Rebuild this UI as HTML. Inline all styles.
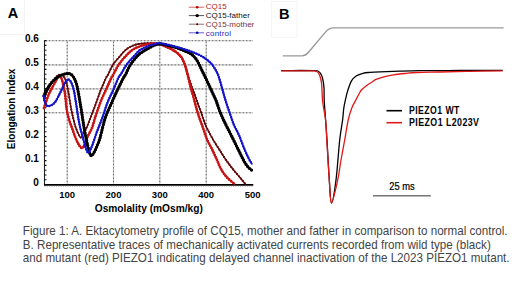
<!DOCTYPE html>
<html><head><meta charset="utf-8"><style>
html,body{margin:0;padding:0;background:#fff;}
body{width:520px;height:283px;overflow:hidden;}
svg{display:block;font-family:"Liberation Sans", sans-serif;}
</style></head><body>
<svg width="520" height="283" viewBox="0 0 520 283">
<rect x="-1" y="-1" width="25.5" height="35.5" fill="none" stroke="#f4f4f4" stroke-width="1"/>
<rect x="271.5" y="1.5" width="25.5" height="36" fill="none" stroke="#f5f5f5" stroke-width="1"/>
<text x="7.8" y="17.8" font-size="14.5" font-weight="bold">A</text>
<text x="279.1" y="19" font-size="14.6" font-weight="bold">B</text>
<line x1="67.2" y1="40.7" x2="67.2" y2="184.6" stroke="#c4c4c4" stroke-width="1.1"/>
<line x1="67.2" y1="41.5" x2="67.2" y2="184.6" stroke="#606060" stroke-width="1" stroke-dasharray="1.2 2.2"/>
<line x1="113.5" y1="40.7" x2="113.5" y2="184.6" stroke="#c4c4c4" stroke-width="1.1"/>
<line x1="113.5" y1="41.5" x2="113.5" y2="184.6" stroke="#606060" stroke-width="1" stroke-dasharray="1.2 2.2"/>
<line x1="159.8" y1="40.7" x2="159.8" y2="184.6" stroke="#c4c4c4" stroke-width="1.1"/>
<line x1="159.8" y1="41.5" x2="159.8" y2="184.6" stroke="#606060" stroke-width="1" stroke-dasharray="1.2 2.2"/>
<line x1="206.2" y1="40.7" x2="206.2" y2="184.6" stroke="#c4c4c4" stroke-width="1.1"/>
<line x1="206.2" y1="41.5" x2="206.2" y2="184.6" stroke="#606060" stroke-width="1" stroke-dasharray="1.2 2.2"/>
<line x1="44.5" y1="40.7" x2="253" y2="40.7" stroke="#c4c4c4" stroke-width="1.1"/>
<line x1="45.5" y1="40.7" x2="253" y2="40.7" stroke="#606060" stroke-width="1" stroke-dasharray="1.2 2.2"/>
<line x1="44.5" y1="64.9" x2="253" y2="64.9" stroke="#c4c4c4" stroke-width="1.1"/>
<line x1="45.5" y1="64.9" x2="253" y2="64.9" stroke="#606060" stroke-width="1" stroke-dasharray="1.2 2.2"/>
<line x1="44.5" y1="88.9" x2="253" y2="88.9" stroke="#c4c4c4" stroke-width="1.1"/>
<line x1="45.5" y1="88.9" x2="253" y2="88.9" stroke="#606060" stroke-width="1" stroke-dasharray="1.2 2.2"/>
<line x1="44.5" y1="112.8" x2="253" y2="112.8" stroke="#c4c4c4" stroke-width="1.1"/>
<line x1="45.5" y1="112.8" x2="253" y2="112.8" stroke="#606060" stroke-width="1" stroke-dasharray="1.2 2.2"/>
<line x1="44.5" y1="40.2" x2="44.5" y2="185.4" stroke="#222" stroke-width="1.1"/>
<line x1="44" y1="184.9" x2="253.3" y2="184.9" stroke="#000" stroke-width="1.9"/>
<path d="M44.5 184.60 h2 M44.5 179.80 h2 M44.5 175.00 h2 M44.5 170.20 h2 M44.5 165.40 h2 M44.5 160.60 h2 M44.5 155.80 h2 M44.5 151.00 h2 M44.5 146.20 h2 M44.5 141.40 h2 M44.5 136.60 h2 M44.5 131.80 h2 M44.5 127.00 h2 M44.5 122.20 h2 M44.5 117.40 h2 M44.5 112.60 h2 M44.5 107.80 h2 M44.5 103.00 h2 M44.5 98.20 h2 M44.5 93.40 h2 M44.5 88.60 h2 M44.5 83.80 h2 M44.5 79.00 h2 M44.5 74.20 h2 M44.5 69.40 h2 M44.5 64.60 h2 M44.5 59.80 h2 M44.5 55.00 h2 M44.5 50.20 h2 M44.5 45.40 h2 M44.5 40.60 h2 " stroke="#111" stroke-width="1.1"/>
<line x1="44.5" y1="186.3" x2="253" y2="186.3" stroke="#999" stroke-width="0.8" stroke-dasharray="1 1.3"/>
<text x="38.8" y="41.9" font-size="10" font-weight="bold" text-anchor="end">0.6</text>
<text x="38.8" y="66.1" font-size="10" font-weight="bold" text-anchor="end">0.5</text>
<text x="38.8" y="90.1" font-size="10" font-weight="bold" text-anchor="end">0.4</text>
<text x="38.8" y="114.0" font-size="10" font-weight="bold" text-anchor="end">0.3</text>
<text x="38.8" y="137.9" font-size="10" font-weight="bold" text-anchor="end">0.2</text>
<text x="38.8" y="161.9" font-size="10" font-weight="bold" text-anchor="end">0.1</text>
<text x="38.8" y="185.8" font-size="10" font-weight="bold" text-anchor="end">0</text>
<text x="67.2" y="198.1" font-size="9.5" font-weight="bold" text-anchor="middle">100</text>
<text x="113.5" y="198.1" font-size="9.5" font-weight="bold" text-anchor="middle">200</text>
<text x="159.8" y="198.1" font-size="9.5" font-weight="bold" text-anchor="middle">300</text>
<text x="206.2" y="198.1" font-size="9.5" font-weight="bold" text-anchor="middle">400</text>
<text x="252.6" y="198.1" font-size="9.5" font-weight="bold" text-anchor="middle">500</text>
<text x="148.8" y="212.3" font-size="10.2" font-weight="bold" text-anchor="middle">Osmolality (mOsm/kg)</text>
<text transform="translate(14.8 108.9) rotate(-90)" font-size="10" font-weight="bold" text-anchor="middle">Elongation Index</text>
<path d="M44.00 100.00 C44.33 99.00 44.93 96.50 46.00 94.00 C47.07 91.50 48.78 87.75 50.40 85.00 C52.02 82.25 54.22 79.20 55.70 77.50 C57.18 75.80 58.08 75.08 59.30 74.80 C60.52 74.52 61.88 74.77 63.00 75.80 C64.12 76.83 65.10 78.30 66.00 81.00 C66.90 83.70 67.57 87.50 68.40 92.00 C69.23 96.50 70.17 103.50 71.00 108.00 C71.83 112.50 72.58 115.67 73.40 119.00 C74.22 122.33 74.72 124.92 75.90 128.00 C77.08 131.08 79.23 136.67 80.50 137.50 C81.77 138.33 82.50 134.58 83.50 133.00 C84.50 131.42 85.35 130.50 86.50 128.00 C87.65 125.50 88.98 121.67 90.40 118.00 C91.82 114.33 93.52 110.00 95.00 106.00 C96.48 102.00 98.27 96.83 99.30 94.00 C100.33 91.17 100.08 91.67 101.20 89.00 C102.32 86.33 104.80 80.50 106.00 78.00 C107.20 75.50 107.27 76.17 108.40 74.00 C109.53 71.83 110.85 68.00 112.80 65.00 C114.75 62.00 117.90 58.57 120.10 56.00 C122.30 53.43 123.87 51.33 126.00 49.60 C128.13 47.87 130.58 46.57 132.90 45.60 C135.22 44.63 137.58 44.20 139.90 43.80 C142.22 43.40 144.50 43.28 146.80 43.20 C149.10 43.12 151.63 43.17 153.70 43.30 C155.77 43.43 157.32 43.48 159.20 44.00 C161.08 44.52 163.12 45.57 165.00 46.40 C166.88 47.23 168.67 48.03 170.50 49.00 C172.33 49.97 174.50 51.12 176.00 52.20 C177.50 53.28 178.50 54.45 179.50 55.50 C180.50 56.55 181.05 56.83 182.00 58.50 C182.95 60.17 184.15 62.58 185.20 65.50 C186.25 68.42 187.25 72.58 188.30 76.00 C189.35 79.42 190.40 82.83 191.50 86.00 C192.60 89.17 193.82 92.00 194.90 95.00 C195.98 98.00 196.95 101.03 198.00 104.00 C199.05 106.97 199.95 109.30 201.20 112.80 C202.45 116.30 203.95 121.30 205.50 125.00 C207.05 128.70 209.00 132.17 210.50 135.00 C212.00 137.83 212.98 139.50 214.50 142.00 C216.02 144.50 217.68 147.00 219.60 150.00 C221.52 153.00 223.67 156.67 226.00 160.00 C228.33 163.33 231.27 167.08 233.60 170.00 C235.93 172.92 238.02 175.12 240.00 177.50 C241.98 179.88 244.58 183.17 245.50 184.30" fill="none" stroke="#600808" stroke-width="1.40" stroke-linejoin="round"/><path d="M44.00 100.00 C44.33 99.00 44.93 96.50 46.00 94.00 C47.07 91.50 48.78 87.75 50.40 85.00 C52.02 82.25 54.22 79.20 55.70 77.50 C57.18 75.80 58.08 75.08 59.30 74.80 C60.52 74.52 61.88 74.77 63.00 75.80 C64.12 76.83 65.10 78.30 66.00 81.00 C66.90 83.70 67.57 87.50 68.40 92.00 C69.23 96.50 70.17 103.50 71.00 108.00 C71.83 112.50 72.58 115.67 73.40 119.00 C74.22 122.33 74.72 124.92 75.90 128.00 C77.08 131.08 79.23 136.67 80.50 137.50 C81.77 138.33 82.50 134.58 83.50 133.00 C84.50 131.42 85.35 130.50 86.50 128.00 C87.65 125.50 88.98 121.67 90.40 118.00 C91.82 114.33 93.52 110.00 95.00 106.00 C96.48 102.00 98.27 96.83 99.30 94.00 C100.33 91.17 100.08 91.67 101.20 89.00 C102.32 86.33 104.80 80.50 106.00 78.00 C107.20 75.50 107.27 76.17 108.40 74.00 C109.53 71.83 110.85 68.00 112.80 65.00 C114.75 62.00 117.90 58.57 120.10 56.00 C122.30 53.43 123.87 51.33 126.00 49.60 C128.13 47.87 130.58 46.57 132.90 45.60 C135.22 44.63 137.58 44.20 139.90 43.80 C142.22 43.40 144.50 43.28 146.80 43.20 C149.10 43.12 151.63 43.17 153.70 43.30 C155.77 43.43 157.32 43.48 159.20 44.00 C161.08 44.52 163.12 45.57 165.00 46.40 C166.88 47.23 168.67 48.03 170.50 49.00 C172.33 49.97 174.50 51.12 176.00 52.20 C177.50 53.28 178.50 54.45 179.50 55.50 C180.50 56.55 181.05 56.83 182.00 58.50 C182.95 60.17 184.15 62.58 185.20 65.50 C186.25 68.42 187.25 72.58 188.30 76.00 C189.35 79.42 190.40 82.83 191.50 86.00 C192.60 89.17 193.82 92.00 194.90 95.00 C195.98 98.00 196.95 101.03 198.00 104.00 C199.05 106.97 199.95 109.30 201.20 112.80 C202.45 116.30 203.95 121.30 205.50 125.00 C207.05 128.70 209.00 132.17 210.50 135.00 C212.00 137.83 212.98 139.50 214.50 142.00 C216.02 144.50 217.68 147.00 219.60 150.00 C221.52 153.00 223.67 156.67 226.00 160.00 C228.33 163.33 231.27 167.08 233.60 170.00 C235.93 172.92 238.02 175.12 240.00 177.50 C241.98 179.88 244.58 183.17 245.50 184.30" fill="none" stroke="#600808" stroke-width="2.20" stroke-linecap="round" stroke-dasharray="0 3.00"/>
<path d="M44.00 108.00 C44.33 107.00 45.25 104.17 46.00 102.00 C46.75 99.83 47.50 97.33 48.50 95.00 C49.50 92.67 50.78 90.33 52.00 88.00 C53.22 85.67 54.70 82.92 55.80 81.00 C56.90 79.08 57.65 76.92 58.60 76.50 C59.55 76.08 60.48 75.92 61.50 78.50 C62.52 81.08 63.82 86.75 64.70 92.00 C65.58 97.25 66.05 105.33 66.80 110.00 C67.55 114.67 68.33 117.00 69.20 120.00 C70.07 123.00 71.03 125.25 72.00 128.00 C72.97 130.75 74.00 133.95 75.00 136.50 C76.00 139.05 76.92 141.38 78.00 143.30 C79.08 145.22 80.45 147.63 81.50 148.00 C82.55 148.37 83.35 147.25 84.30 145.50 C85.25 143.75 85.92 140.42 87.20 137.50 C88.48 134.58 90.70 131.25 92.00 128.00 C93.30 124.75 93.58 122.33 95.00 118.00 C96.42 113.67 98.62 106.83 100.50 102.00 C102.38 97.17 104.50 93.00 106.30 89.00 C108.10 85.00 110.08 80.50 111.30 78.00 C112.52 75.50 112.40 76.17 113.60 74.00 C114.80 71.83 116.47 68.00 118.50 65.00 C120.53 62.00 123.40 58.57 125.80 56.00 C128.20 53.43 130.55 51.20 132.90 49.60 C135.25 48.00 137.58 47.27 139.90 46.40 C142.22 45.53 144.50 44.87 146.80 44.40 C149.10 43.93 151.63 43.67 153.70 43.60 C155.77 43.53 157.32 43.57 159.20 44.00 C161.08 44.43 163.12 45.43 165.00 46.20 C166.88 46.97 168.67 47.65 170.50 48.60 C172.33 49.55 174.50 50.83 176.00 51.90 C177.50 52.97 178.53 54.02 179.50 55.00 C180.47 55.98 180.92 56.18 181.80 57.80 C182.68 59.42 183.80 61.73 184.80 64.70 C185.80 67.67 186.82 71.80 187.80 75.60 C188.78 79.40 189.72 83.77 190.70 87.50 C191.68 91.23 192.53 93.78 193.70 98.00 C194.87 102.22 196.27 108.13 197.70 112.80 C199.13 117.47 200.70 121.47 202.30 126.00 C203.90 130.53 205.62 136.00 207.30 140.00 C208.98 144.00 210.78 146.67 212.40 150.00 C214.02 153.33 215.48 156.67 217.00 160.00 C218.52 163.33 219.75 167.00 221.50 170.00 C223.25 173.00 225.25 175.62 227.50 178.00 C229.75 180.38 233.75 183.25 235.00 184.30" fill="none" stroke="#c81414" stroke-width="1.80" stroke-linejoin="round"/><path d="M44.00 108.00 C44.33 107.00 45.25 104.17 46.00 102.00 C46.75 99.83 47.50 97.33 48.50 95.00 C49.50 92.67 50.78 90.33 52.00 88.00 C53.22 85.67 54.70 82.92 55.80 81.00 C56.90 79.08 57.65 76.92 58.60 76.50 C59.55 76.08 60.48 75.92 61.50 78.50 C62.52 81.08 63.82 86.75 64.70 92.00 C65.58 97.25 66.05 105.33 66.80 110.00 C67.55 114.67 68.33 117.00 69.20 120.00 C70.07 123.00 71.03 125.25 72.00 128.00 C72.97 130.75 74.00 133.95 75.00 136.50 C76.00 139.05 76.92 141.38 78.00 143.30 C79.08 145.22 80.45 147.63 81.50 148.00 C82.55 148.37 83.35 147.25 84.30 145.50 C85.25 143.75 85.92 140.42 87.20 137.50 C88.48 134.58 90.70 131.25 92.00 128.00 C93.30 124.75 93.58 122.33 95.00 118.00 C96.42 113.67 98.62 106.83 100.50 102.00 C102.38 97.17 104.50 93.00 106.30 89.00 C108.10 85.00 110.08 80.50 111.30 78.00 C112.52 75.50 112.40 76.17 113.60 74.00 C114.80 71.83 116.47 68.00 118.50 65.00 C120.53 62.00 123.40 58.57 125.80 56.00 C128.20 53.43 130.55 51.20 132.90 49.60 C135.25 48.00 137.58 47.27 139.90 46.40 C142.22 45.53 144.50 44.87 146.80 44.40 C149.10 43.93 151.63 43.67 153.70 43.60 C155.77 43.53 157.32 43.57 159.20 44.00 C161.08 44.43 163.12 45.43 165.00 46.20 C166.88 46.97 168.67 47.65 170.50 48.60 C172.33 49.55 174.50 50.83 176.00 51.90 C177.50 52.97 178.53 54.02 179.50 55.00 C180.47 55.98 180.92 56.18 181.80 57.80 C182.68 59.42 183.80 61.73 184.80 64.70 C185.80 67.67 186.82 71.80 187.80 75.60 C188.78 79.40 189.72 83.77 190.70 87.50 C191.68 91.23 192.53 93.78 193.70 98.00 C194.87 102.22 196.27 108.13 197.70 112.80 C199.13 117.47 200.70 121.47 202.30 126.00 C203.90 130.53 205.62 136.00 207.30 140.00 C208.98 144.00 210.78 146.67 212.40 150.00 C214.02 153.33 215.48 156.67 217.00 160.00 C218.52 163.33 219.75 167.00 221.50 170.00 C223.25 173.00 225.25 175.62 227.50 178.00 C229.75 180.38 233.75 183.25 235.00 184.30" fill="none" stroke="#c81414" stroke-width="2.80" stroke-linecap="round" stroke-dasharray="0 2.60"/>
<path d="M44.00 96.00 C44.33 95.17 45.17 92.67 46.00 91.00 C46.83 89.33 47.83 87.67 49.00 86.00 C50.17 84.33 51.50 82.50 53.00 81.00 C54.50 79.50 56.33 78.08 58.00 77.00 C59.67 75.92 61.17 75.08 63.00 74.50 C64.83 73.92 67.25 73.08 69.00 73.50 C70.75 73.92 72.17 74.92 73.50 77.00 C74.83 79.08 75.83 81.33 77.00 86.00 C78.17 90.67 79.25 97.67 80.50 105.00 C81.75 112.33 83.17 122.67 84.50 130.00 C85.83 137.33 87.42 144.75 88.50 149.00 C89.58 153.25 90.08 154.92 91.00 155.50 C91.92 156.08 93.00 154.08 94.00 152.50 C95.00 150.92 96.00 148.42 97.00 146.00 C98.00 143.58 98.63 142.67 100.00 138.00 C101.37 133.33 103.20 124.00 105.20 118.00 C107.20 112.00 109.88 106.83 112.00 102.00 C114.12 97.17 116.00 93.00 117.90 89.00 C119.80 85.00 122.08 80.50 123.40 78.00 C124.72 75.50 124.65 76.17 125.80 74.00 C126.95 71.83 128.38 68.00 130.30 65.00 C132.22 62.00 135.18 58.25 137.30 56.00 C139.42 53.75 141.22 52.73 143.00 51.50 C144.78 50.27 146.22 49.58 148.00 48.60 C149.78 47.62 151.83 46.37 153.70 45.60 C155.57 44.83 157.32 44.17 159.20 44.00 C161.08 43.83 162.87 44.18 165.00 44.60 C167.13 45.02 169.67 45.83 172.00 46.50 C174.33 47.17 176.72 47.80 179.00 48.60 C181.28 49.40 183.87 50.52 185.70 51.30 C187.53 52.08 188.62 52.42 190.00 53.30 C191.38 54.18 192.72 55.22 194.00 56.60 C195.28 57.98 196.20 58.93 197.70 61.60 C199.20 64.27 201.23 68.95 203.00 72.60 C204.77 76.25 206.70 80.10 208.30 83.50 C209.90 86.90 211.32 90.17 212.60 93.00 C213.88 95.83 214.68 97.17 216.00 100.50 C217.32 103.83 218.83 108.92 220.50 113.00 C222.17 117.08 224.23 121.33 226.00 125.00 C227.77 128.67 229.02 130.83 231.10 135.00 C233.18 139.17 236.35 145.67 238.50 150.00 C240.65 154.33 242.42 158.17 244.00 161.00 C245.58 163.83 246.67 165.42 248.00 167.00 C249.33 168.58 251.33 169.92 252.00 170.50" fill="none" stroke="#000" stroke-width="2.20" stroke-linejoin="round"/><path d="M44.00 96.00 C44.33 95.17 45.17 92.67 46.00 91.00 C46.83 89.33 47.83 87.67 49.00 86.00 C50.17 84.33 51.50 82.50 53.00 81.00 C54.50 79.50 56.33 78.08 58.00 77.00 C59.67 75.92 61.17 75.08 63.00 74.50 C64.83 73.92 67.25 73.08 69.00 73.50 C70.75 73.92 72.17 74.92 73.50 77.00 C74.83 79.08 75.83 81.33 77.00 86.00 C78.17 90.67 79.25 97.67 80.50 105.00 C81.75 112.33 83.17 122.67 84.50 130.00 C85.83 137.33 87.42 144.75 88.50 149.00 C89.58 153.25 90.08 154.92 91.00 155.50 C91.92 156.08 93.00 154.08 94.00 152.50 C95.00 150.92 96.00 148.42 97.00 146.00 C98.00 143.58 98.63 142.67 100.00 138.00 C101.37 133.33 103.20 124.00 105.20 118.00 C107.20 112.00 109.88 106.83 112.00 102.00 C114.12 97.17 116.00 93.00 117.90 89.00 C119.80 85.00 122.08 80.50 123.40 78.00 C124.72 75.50 124.65 76.17 125.80 74.00 C126.95 71.83 128.38 68.00 130.30 65.00 C132.22 62.00 135.18 58.25 137.30 56.00 C139.42 53.75 141.22 52.73 143.00 51.50 C144.78 50.27 146.22 49.58 148.00 48.60 C149.78 47.62 151.83 46.37 153.70 45.60 C155.57 44.83 157.32 44.17 159.20 44.00 C161.08 43.83 162.87 44.18 165.00 44.60 C167.13 45.02 169.67 45.83 172.00 46.50 C174.33 47.17 176.72 47.80 179.00 48.60 C181.28 49.40 183.87 50.52 185.70 51.30 C187.53 52.08 188.62 52.42 190.00 53.30 C191.38 54.18 192.72 55.22 194.00 56.60 C195.28 57.98 196.20 58.93 197.70 61.60 C199.20 64.27 201.23 68.95 203.00 72.60 C204.77 76.25 206.70 80.10 208.30 83.50 C209.90 86.90 211.32 90.17 212.60 93.00 C213.88 95.83 214.68 97.17 216.00 100.50 C217.32 103.83 218.83 108.92 220.50 113.00 C222.17 117.08 224.23 121.33 226.00 125.00 C227.77 128.67 229.02 130.83 231.10 135.00 C233.18 139.17 236.35 145.67 238.50 150.00 C240.65 154.33 242.42 158.17 244.00 161.00 C245.58 163.83 246.67 165.42 248.00 167.00 C249.33 168.58 251.33 169.92 252.00 170.50" fill="none" stroke="#000" stroke-width="3.30" stroke-linecap="round" stroke-dasharray="0 2.60"/>
<path d="M43.60 96.00 C43.83 97.00 44.52 100.45 45.00 102.00 C45.48 103.55 45.78 104.63 46.50 105.30 C47.22 105.97 47.92 106.47 49.30 106.00 C50.68 105.53 53.12 104.45 54.80 102.50 C56.48 100.55 58.20 96.55 59.40 94.30 C60.60 92.05 61.07 90.88 62.00 89.00 C62.93 87.12 64.00 84.58 65.00 83.00 C66.00 81.42 67.00 79.67 68.00 79.50 C69.00 79.33 69.97 79.92 71.00 82.00 C72.03 84.08 72.87 85.33 74.20 92.00 C75.53 98.67 77.53 114.33 79.00 122.00 C80.47 129.67 81.60 133.00 83.00 138.00 C84.40 143.00 86.07 150.25 87.40 152.00 C88.73 153.75 89.48 151.67 91.00 148.50 C92.52 145.33 94.63 138.08 96.50 133.00 C98.37 127.92 100.33 123.17 102.20 118.00 C104.07 112.83 105.78 106.83 107.70 102.00 C109.62 97.17 111.93 93.00 113.70 89.00 C115.47 85.00 117.08 80.50 118.30 78.00 C119.52 75.50 119.65 76.17 121.00 74.00 C122.35 71.83 124.22 68.00 126.40 65.00 C128.58 62.00 131.85 58.48 134.10 56.00 C136.35 53.52 137.78 51.67 139.90 50.10 C142.02 48.53 144.50 47.57 146.80 46.60 C149.10 45.63 151.63 44.87 153.70 44.30 C155.77 43.73 157.32 43.22 159.20 43.20 C161.08 43.18 162.87 43.77 165.00 44.20 C167.13 44.63 169.67 45.23 172.00 45.80 C174.33 46.37 176.67 46.95 179.00 47.60 C181.33 48.25 183.67 48.92 186.00 49.70 C188.33 50.48 190.67 51.35 193.00 52.30 C195.33 53.25 197.83 54.28 200.00 55.40 C202.17 56.52 204.17 57.68 206.00 59.00 C207.83 60.32 209.50 61.67 211.00 63.30 C212.50 64.93 213.75 66.68 215.00 68.80 C216.25 70.92 217.28 72.63 218.50 76.00 C219.72 79.37 221.15 85.00 222.30 89.00 C223.45 93.00 224.17 96.00 225.40 100.00 C226.63 104.00 228.27 108.83 229.70 113.00 C231.13 117.17 232.47 121.33 234.00 125.00 C235.53 128.67 237.10 130.83 238.90 135.00 C240.70 139.17 243.12 146.00 244.80 150.00 C246.48 154.00 247.75 156.58 249.00 159.00 C250.25 161.42 251.75 163.58 252.30 164.50" fill="none" stroke="#1414c8" stroke-width="1.60" stroke-linejoin="round"/><path d="M43.60 96.00 C43.83 97.00 44.52 100.45 45.00 102.00 C45.48 103.55 45.78 104.63 46.50 105.30 C47.22 105.97 47.92 106.47 49.30 106.00 C50.68 105.53 53.12 104.45 54.80 102.50 C56.48 100.55 58.20 96.55 59.40 94.30 C60.60 92.05 61.07 90.88 62.00 89.00 C62.93 87.12 64.00 84.58 65.00 83.00 C66.00 81.42 67.00 79.67 68.00 79.50 C69.00 79.33 69.97 79.92 71.00 82.00 C72.03 84.08 72.87 85.33 74.20 92.00 C75.53 98.67 77.53 114.33 79.00 122.00 C80.47 129.67 81.60 133.00 83.00 138.00 C84.40 143.00 86.07 150.25 87.40 152.00 C88.73 153.75 89.48 151.67 91.00 148.50 C92.52 145.33 94.63 138.08 96.50 133.00 C98.37 127.92 100.33 123.17 102.20 118.00 C104.07 112.83 105.78 106.83 107.70 102.00 C109.62 97.17 111.93 93.00 113.70 89.00 C115.47 85.00 117.08 80.50 118.30 78.00 C119.52 75.50 119.65 76.17 121.00 74.00 C122.35 71.83 124.22 68.00 126.40 65.00 C128.58 62.00 131.85 58.48 134.10 56.00 C136.35 53.52 137.78 51.67 139.90 50.10 C142.02 48.53 144.50 47.57 146.80 46.60 C149.10 45.63 151.63 44.87 153.70 44.30 C155.77 43.73 157.32 43.22 159.20 43.20 C161.08 43.18 162.87 43.77 165.00 44.20 C167.13 44.63 169.67 45.23 172.00 45.80 C174.33 46.37 176.67 46.95 179.00 47.60 C181.33 48.25 183.67 48.92 186.00 49.70 C188.33 50.48 190.67 51.35 193.00 52.30 C195.33 53.25 197.83 54.28 200.00 55.40 C202.17 56.52 204.17 57.68 206.00 59.00 C207.83 60.32 209.50 61.67 211.00 63.30 C212.50 64.93 213.75 66.68 215.00 68.80 C216.25 70.92 217.28 72.63 218.50 76.00 C219.72 79.37 221.15 85.00 222.30 89.00 C223.45 93.00 224.17 96.00 225.40 100.00 C226.63 104.00 228.27 108.83 229.70 113.00 C231.13 117.17 232.47 121.33 234.00 125.00 C235.53 128.67 237.10 130.83 238.90 135.00 C240.70 139.17 243.12 146.00 244.80 150.00 C246.48 154.00 247.75 156.58 249.00 159.00 C250.25 161.42 251.75 163.58 252.30 164.50" fill="none" stroke="#1414c8" stroke-width="2.50" stroke-linecap="round" stroke-dasharray="0 2.60"/>
<line x1="188.8" y1="7.2" x2="204" y2="7.2" stroke="#d86060" stroke-width="1"/>
<circle cx="197.2" cy="7.2" r="1.3" fill="#a00000"/>
<text x="205.8" y="9.2" font-size="8" fill="#b82020">CQ15</text>
<line x1="188.8" y1="15.6" x2="204" y2="15.6" stroke="#555" stroke-width="1"/>
<circle cx="197.2" cy="15.6" r="1.7" fill="#000"/>
<text x="205.8" y="18.0" font-size="8" fill="#111">CQ15-father</text>
<line x1="188.8" y1="24.2" x2="204" y2="24.2" stroke="#907070" stroke-width="1"/>
<circle cx="197.2" cy="24.2" r="1.0" fill="#400000"/>
<text x="205.8" y="26.8" font-size="8" fill="#803030">CQ15-mother</text>
<line x1="188.8" y1="32.8" x2="204" y2="32.8" stroke="#6060d8" stroke-width="1"/>
<circle cx="197.2" cy="32.8" r="1.3" fill="#000090"/>
<text x="205.8" y="35.5" font-size="8" fill="#2828b0" letter-spacing="0.2">control</text>
<path d="M282.8 55.8 L302 55.8 Q305.5 55.8 308.5 52.2 L325 32.6 Q328.8 28 333.5 27.9 L503.6 27.9" fill="none" stroke="#999" stroke-width="1.35"/>
<path d="M281.20 70.60 C284.33 70.58 294.53 70.50 300.00 70.50 C305.47 70.50 311.08 70.52 314.00 70.60 C316.92 70.68 316.42 70.55 317.50 71.00 C318.58 71.45 319.67 72.13 320.50 73.30 C321.33 74.47 321.92 75.55 322.50 78.00 C323.08 80.45 323.72 84.33 324.00 88.00 C324.28 91.67 323.93 94.67 324.20 100.00 C324.47 105.33 325.13 113.33 325.60 120.00 C326.07 126.67 326.38 130.00 327.00 140.00 C327.62 150.00 328.55 169.50 329.30 180.00 C330.05 190.50 330.38 203.00 331.50 203.00 C332.62 203.00 334.63 190.50 336.00 180.00 C337.37 169.50 338.60 150.00 339.70 140.00 C340.80 130.00 341.92 125.33 342.60 120.00 C343.28 114.67 343.32 111.42 343.80 108.00 C344.28 104.58 344.87 102.32 345.50 99.50 C346.13 96.68 346.60 94.20 347.60 91.10 C348.60 88.00 350.02 83.45 351.50 80.90 C352.98 78.35 354.60 77.07 356.50 75.80 C358.40 74.53 360.65 73.87 362.90 73.30 C365.15 72.73 367.15 72.65 370.00 72.40 C372.85 72.15 375.00 72.02 380.00 71.80 C385.00 71.58 393.33 71.28 400.00 71.10 C406.67 70.92 410.00 70.80 420.00 70.70 C430.00 70.60 446.22 70.55 460.00 70.50 C473.78 70.45 495.58 70.42 502.70 70.40" fill="none" stroke="#000" stroke-width="1.3" stroke-linejoin="round"/>
<path d="M281.20 70.90 C284.33 70.88 294.70 70.80 300.00 70.80 C305.30 70.80 310.28 70.82 313.00 70.90 C315.72 70.98 315.38 70.95 316.30 71.30 C317.22 71.65 317.80 71.88 318.50 73.00 C319.20 74.12 319.97 76.00 320.50 78.00 C321.03 80.00 321.33 81.00 321.70 85.00 C322.07 89.00 322.05 96.17 322.70 102.00 C323.35 107.83 324.92 113.67 325.60 120.00 C326.28 126.33 326.18 130.00 326.80 140.00 C327.42 150.00 328.52 169.50 329.30 180.00 C330.08 190.50 330.10 203.00 331.50 203.00 C332.90 203.00 336.12 187.17 337.70 180.00 C339.28 172.83 339.83 166.67 341.00 160.00 C342.17 153.33 343.50 146.67 344.70 140.00 C345.90 133.33 347.02 125.33 348.20 120.00 C349.38 114.67 350.42 111.55 351.80 108.00 C353.18 104.45 355.30 101.03 356.50 98.70 C357.70 96.37 358.15 95.48 359.00 94.00 C359.85 92.52 360.32 91.23 361.60 89.80 C362.88 88.37 365.00 86.67 366.70 85.40 C368.40 84.13 370.25 83.20 371.80 82.20 C373.35 81.20 373.80 80.33 376.00 79.40 C378.20 78.47 382.03 77.37 385.00 76.60 C387.97 75.83 390.47 75.32 393.80 74.80 C397.13 74.28 401.15 73.88 405.00 73.50 C408.85 73.12 411.07 72.75 416.90 72.50 C422.73 72.25 431.15 72.20 440.00 72.00 C448.85 71.80 459.55 71.50 470.00 71.30 C480.45 71.10 497.25 70.88 502.70 70.80" fill="none" stroke="#e01818" stroke-width="1.3" stroke-linejoin="round"/>
<line x1="386.5" y1="110.7" x2="402" y2="110.7" stroke="#000" stroke-width="1.6"/>
<line x1="386.5" y1="122.7" x2="402" y2="122.7" stroke="#e01818" stroke-width="1.6"/>
<text x="409" y="114.3" font-size="10" font-weight="bold" letter-spacing="0.5" textLength="50.8" lengthAdjust="spacingAndGlyphs">PIEZO1 WT</text>
<text x="409" y="126.3" font-size="10" font-weight="bold" letter-spacing="0.5" textLength="70.4" lengthAdjust="spacingAndGlyphs">PIEZO1 L2023V</text>
<text x="389.2" y="190.2" font-size="10" textLength="25.4" lengthAdjust="spacingAndGlyphs" stroke="#000" stroke-width="0.2">25 ms</text>
<line x1="373" y1="195.8" x2="430.8" y2="195.8" stroke="#777" stroke-width="1.4"/>
<text x="22.8" y="235.40" font-size="12.2" fill="#444" textLength="484.8" lengthAdjust="spacingAndGlyphs">Figure 1: A. Ektacytometry profile of CQ15, mother and father in comparison to normal control.</text>
<text x="22.8" y="248.70" font-size="12.2" fill="#444" textLength="468.0" lengthAdjust="spacingAndGlyphs">B. Representative traces of mechanically activated currents recorded from wild type (black)</text>
<text x="22.8" y="262.00" font-size="12.2" fill="#444" textLength="486.8" lengthAdjust="spacingAndGlyphs">and mutant (red) PIEZO1 indicating delayed channel inactivation of the L2023 PIEZO1 mutant.</text>
</svg>
</body></html>
